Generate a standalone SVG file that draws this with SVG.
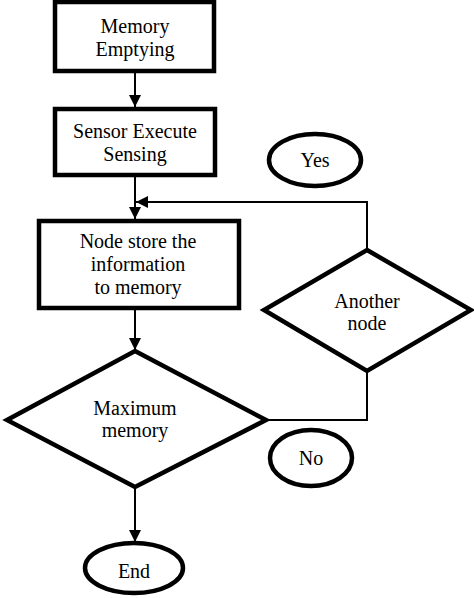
<svg xmlns="http://www.w3.org/2000/svg" width="474" height="598" viewBox="0 0 474 598">
<style>
.shape{fill:#fff;stroke:#000;stroke-width:4.5}
.conn{fill:none;stroke:#000;stroke-width:2}
text{font-family:"Liberation Serif","Times New Roman",serif;font-size:20px;fill:#000;text-anchor:middle}
</style>
<defs>
<marker id="ah" markerUnits="userSpaceOnUse" markerWidth="12" markerHeight="12" refX="12" refY="6" orient="auto">
<path d="M0,0 L12,6 L0,12 z" fill="#000"/>
</marker>
</defs>
<rect width="474" height="598" fill="#fff"/>
<g id="connectors">
<line class="conn" x1="135" y1="73" x2="135" y2="107" marker-end="url(#ah)"/>
<line class="conn" x1="135" y1="177" x2="135" y2="219" marker-end="url(#ah)"/>
<polyline class="conn" points="367,249 367,202 136,202" marker-end="url(#ah)"/>
<line class="conn" x1="135" y1="310" x2="135" y2="350" marker-end="url(#ah)"/>
<polyline class="conn" points="267,420 367,420 367,372"/>
<line class="conn" x1="135" y1="488" x2="135" y2="542" marker-end="url(#ah)"/>
</g>
<g id="memory-emptying">
<rect class="shape" x="55" y="2" width="159" height="69"/>
<text x="135" y="33">Memory</text>
<text x="135" y="56">Emptying</text>
</g>
<g id="sensor-execute">
<rect class="shape" x="55" y="109" width="160" height="66"/>
<text x="135" y="138">Sensor Execute</text>
<text x="135" y="161">Sensing</text>
</g>
<g id="node-store">
<rect class="shape" x="39" y="221" width="200" height="87"/>
<text x="138" y="248">Node store the</text>
<text x="138" y="271">information</text>
<text x="138" y="294">to memory</text>
</g>
<g id="maximum-memory">
<polygon class="shape" points="135,351 266,420 135,487 7,420"/>
<text x="135" y="415">Maximum</text>
<text x="135" y="437">memory</text>
</g>
<g id="another-node">
<polygon class="shape" points="367,250 471,310 367,371 264,310"/>
<text x="367" y="308">Another</text>
<text x="367" y="330">node</text>
</g>
<g id="yes">
<ellipse class="shape" cx="315" cy="160" rx="46" ry="26"/>
<text x="315" y="167">Yes</text>
</g>
<g id="no">
<ellipse class="shape" cx="311" cy="458" rx="41" ry="28"/>
<text x="311" y="465">No</text>
</g>
<g id="end">
<ellipse class="shape" cx="134" cy="568" rx="49" ry="25"/>
<text x="134" y="578">End</text>
</g>
</svg>
